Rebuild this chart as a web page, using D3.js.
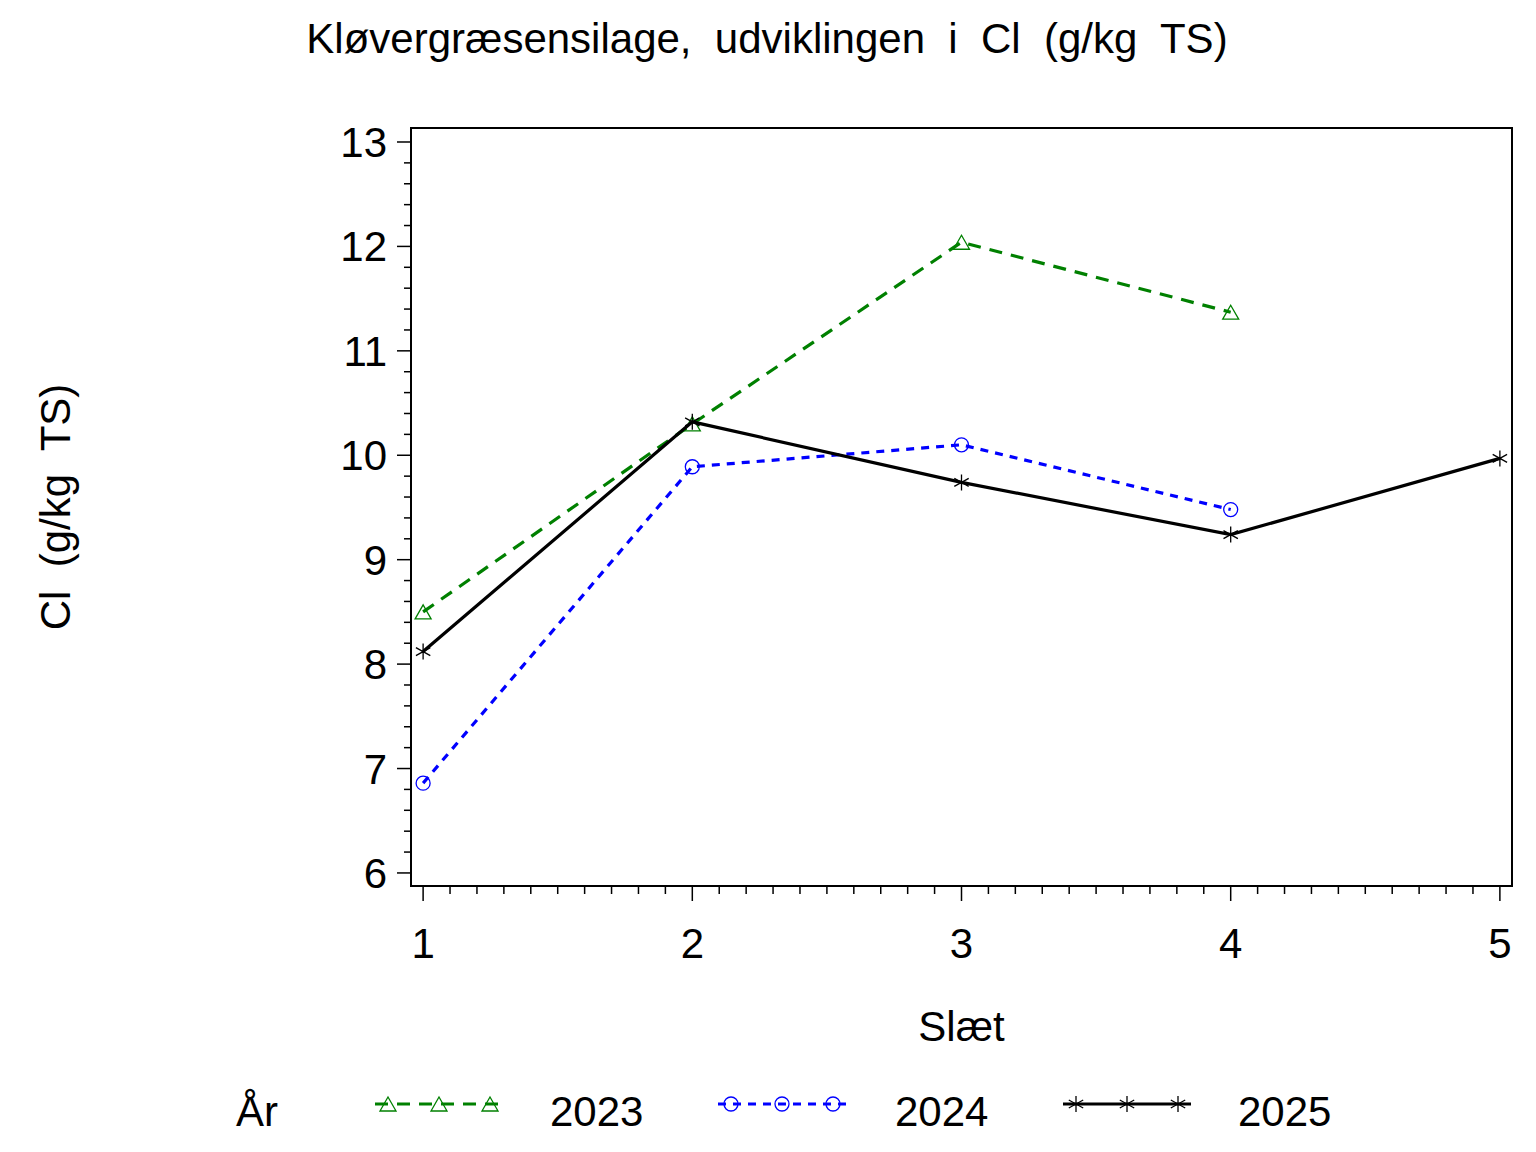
<!DOCTYPE html>
<html><head><meta charset="utf-8">
<script src="https://cdn.jsdelivr.net/npm/d3@7"></script>
<style>body{margin:0;background:#fff}text{font-family:"Liberation Sans",Arial,sans-serif;white-space:pre}</style>
</head><body>
<svg id="c" width="1536" height="1152"></svg>
<script>
const slaet = [1, 2, 3, 4, 5];
const years = ["2023", "2024", "2025"];
const cl2023 = [8.50, 10.30, 12.04, 11.37];
const cl2024 = [6.86, 9.89, 10.10, 9.48];
const cl2025 = [8.12, 10.32, 9.74, 9.24, 9.97];
const yTicks = [6, 7, 8, 9, 10, 11, 12, 13];
const xTicks = [1, 2, 3, 4, 5];
const titleText = "Kløvergræsensilage,  udviklingen  i  Cl  (g/kg  TS)";
const yLabel = "Cl  (g/kg  TS)";
const xLabel = "Slæt";
const legendTitle = "År";

const svg = d3.select("#c");
const L = 411, R = 1512, T = 128, B = 886;
const x = d3.scaleLinear().domain([0.955, 5.045]).range([L, R]);
const y = d3.scaleLinear().domain([5.875, 13.134]).range([B, T]);
const FS = 42;

const series = [
  {name: years[0], vals: cl2023, color: "#008000", dash: "13,9", marker: "tri"},
  {name: years[1], vals: cl2024, color: "#0000ff", dash: "8,7", marker: "circ"},
  {name: years[2], vals: cl2025, color: "#000000", dash: null, marker: "star"}
];

function drawMarker(g, type, cx, cy, color) {
  if (type === "tri") {
    g.append("path").attr("d", `M${cx},${cy-7}L${cx+8},${cy+7}L${cx-8},${cy+7}Z`)
      .attr("fill", "none").attr("stroke", color).attr("stroke-width", 1.3);
  } else if (type === "circ") {
    g.append("circle").attr("cx", cx).attr("cy", cy).attr("r", 7)
      .attr("fill", "none").attr("stroke", color).attr("stroke-width", 1.3);
  } else {
    const s = 8;
    g.append("path").attr("d",
      `M${cx},${cy-s}L${cx},${cy+s}M${cx-s*0.9},${cy-s*0.5}L${cx+s*0.9},${cy+s*0.5}M${cx-s*0.9},${cy+s*0.5}L${cx+s*0.9},${cy-s*0.5}`)
      .attr("fill", "none").attr("stroke", color).attr("stroke-width", 1.3);
  }
}

// Frame
svg.append("rect").attr("x", L).attr("y", T).attr("width", R - L).attr("height", B - T)
  .attr("fill", "none").attr("stroke", "#000").attr("stroke-width", 2);

// Y ticks
const yMinor = d3.range(6, 13.001, 0.2).filter(v => Math.abs(v - Math.round(v)) > 0.01);
yMinor.forEach(v => svg.append("line").attr("x1", L - 7).attr("x2", L).attr("y1", y(v)).attr("y2", y(v)).attr("stroke", "#000").attr("stroke-width", 1.5));
yTicks.forEach(v => {
  svg.append("line").attr("x1", L - 14).attr("x2", L).attr("y1", y(v)).attr("y2", y(v)).attr("stroke", "#000").attr("stroke-width", 1.5);
  svg.append("text").attr("x", 387).attr("y", y(v) + 15).attr("text-anchor", "end").attr("font-size", FS).text(v);
});
// X ticks
const xMinor = d3.range(1, 5.001, 0.1).filter(v => Math.abs(v - Math.round(v)) > 0.01);
xMinor.forEach(v => svg.append("line").attr("x1", x(v)).attr("x2", x(v)).attr("y1", B).attr("y2", B + 8).attr("stroke", "#000").attr("stroke-width", 1.5));
xTicks.forEach(v => {
  svg.append("line").attr("x1", x(v)).attr("x2", x(v)).attr("y1", B).attr("y2", B + 15).attr("stroke", "#000").attr("stroke-width", 1.5);
  svg.append("text").attr("x", x(v)).attr("y", 958).attr("text-anchor", "middle").attr("font-size", FS).text(v);
});

// Labels
svg.append("text").attr("x", 767).attr("y", 53).attr("text-anchor", "middle").attr("font-size", 42).text(titleText);
svg.append("text").attr("x", (L + R) / 2).attr("y", 1041).attr("text-anchor", "middle").attr("font-size", FS).text(xLabel);
svg.append("text").attr("transform", `translate(70,${(T + B) / 2}) rotate(-90)`).attr("text-anchor", "middle").attr("font-size", FS).text(yLabel);

// Series
series.forEach(s => {
  const pts = s.vals.map((v, i) => [slaet[i], v]);
  const line = d3.line().x(d => x(d[0])).y(d => y(d[1]));
  const p = svg.append("path").attr("d", line(pts)).attr("fill", "none")
    .attr("stroke", s.color).attr("stroke-width", 3.2);
  if (s.dash) p.attr("stroke-dasharray", s.dash);
  const g = svg.append("g");
  pts.forEach(d => drawMarker(g, s.marker, x(d[0]), y(d[1]), s.color));
});

// Legend
svg.append("text").attr("x", 236).attr("y", 1126).attr("font-size", FS).text(legendTitle);
const legX = [375, 718, 1063];
const legLabelX = [550, 895, 1238];
series.forEach((s, i) => {
  const ly = 1104;
  const lp = svg.append("line").attr("x1", legX[i]).attr("x2", legX[i] + 128).attr("y1", ly).attr("y2", ly)
    .attr("stroke", s.color).attr("stroke-width", 3.2);
  if (s.dash) lp.attr("stroke-dasharray", s.dash);
  [13, 64, 115].forEach(o => drawMarker(svg, s.marker, legX[i] + o, ly, s.color));
  svg.append("text").attr("x", legLabelX[i]).attr("y", 1126).attr("font-size", FS).text(s.name);
});
</script>
</body></html>
